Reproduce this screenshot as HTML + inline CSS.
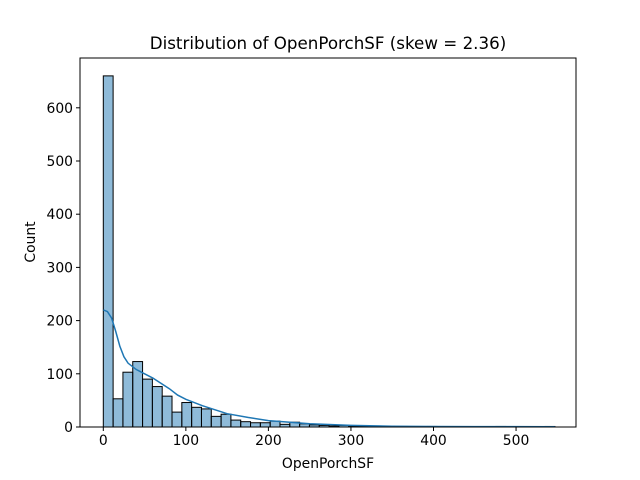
<!DOCTYPE html>
<html><head><meta charset="utf-8"><style>
body{margin:0;background:#fff}
svg text{font-family:"DejaVu Sans","Liberation Sans",sans-serif;fill:#000}
</style></head><body>
<svg id="c" width="640" height="480" style="position:absolute;left:0;top:0"></svg>
<script>
const counts=[660,53,103,123,90,76,58,28,46,37,34,20,24,13,10,8,8,11,5,9,6,4,3,2,3,1,1,0,1,0,1,0,0,1,0,0,0,0,0,0,1,0,0,0,0,1];
const binStart=0, binEnd=547;
const kdeX=[0,5,10,15,20,25,30,40,50,60,70,80,90,100,120,150,175,200,250,300,350,400,450,500,547];
const kdeY=[220,217,205,180,152,132,120,108,100,92,82,72,60,52,40,25,18,12,6,3,1.5,1,0.8,0.6,0.5];
const xTicks=[0,100,200,300,400,500];
const yTicks=[0,100,200,300,400,500,600];
const svg=document.getElementById('c');const NS='http://www.w3.org/2000/svg';
const L=80,R=576,T=58,B=427;
const X=v=>103.3+v*0.8255;
const Y=v=>B-v*0.532;
function mk(t,a,p){const e=document.createElementNS(NS,t);for(const k in a)e.setAttribute(k,a[k]);(p||svg).appendChild(e);return e;}
const bw=(binEnd-binStart)/counts.length;
counts.forEach((c,i)=>{if(c<=0)return;
const r=mk('rect',{x:X(binStart+i*bw),y:Y(c),width:X(bw)-X(0),height:B-Y(c),fill:'#1f77b4','fill-opacity':0.5,stroke:'#000','stroke-width':1});

});
const pl=mk('polyline',{points:kdeX.map((x,i)=>X(x)+','+Y(kdeY[i])).join(' '),fill:'none',stroke:'#1f77b4','stroke-width':1.5});


const fr=mk('rect',{x:L,y:T,width:R-L,height:B-T,fill:'none',stroke:'#000','stroke-width':1});


xTicks.forEach(v=>{mk('line',{x1:X(v),x2:X(v),y1:B,y2:B+4,stroke:'#000'});
const t=mk('text',{x:X(v),y:B+18,'text-anchor':'middle','font-size':13.9});t.textContent=v;

});
yTicks.forEach(v=>{mk('line',{x1:L-4,x2:L,y1:Y(v),y2:Y(v),stroke:'#000'});
const t=mk('text',{x:L-7,y:Y(v)+5,'text-anchor':'end','font-size':13.9});t.textContent=v;

});
const ti=mk('text',{x:328,y:49,'text-anchor':'middle','font-size':16.7});ti.textContent='Distribution of OpenPorchSF (skew = 2.36)';


const xt=mk('text',{x:328,y:468,'text-anchor':'middle','font-size':13.9});xt.textContent='OpenPorchSF';


const yt=mk('text',{x:0,y:0,'text-anchor':'middle','font-size':13.9,transform:'translate(35,242) rotate(-90)'});yt.textContent='Count';


</script>
</body></html>
